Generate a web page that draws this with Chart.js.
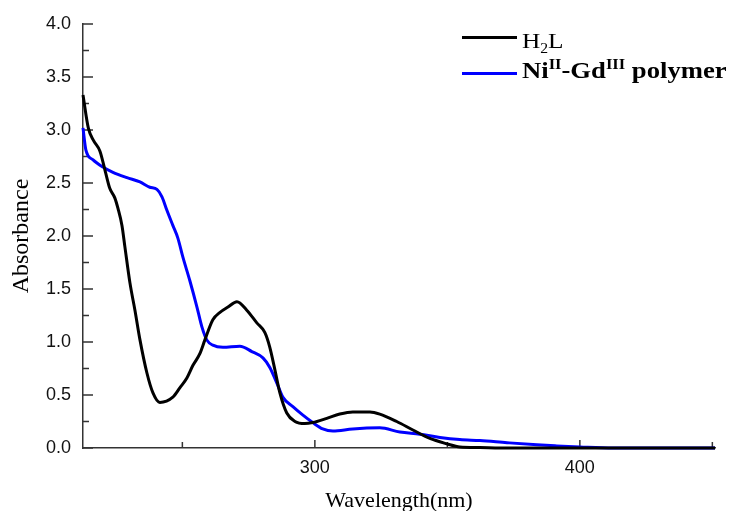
<!DOCTYPE html>
<html><head><meta charset="utf-8">
<script src="https://cdn.jsdelivr.net/npm/chart.js@4"></script>
<style>
html,body{margin:0;padding:0;background:#fff;}
#wrap{position:relative;width:733px;height:511px;overflow:hidden;}
canvas{display:block;}
.leg{position:absolute;font-family:"Liberation Serif","Times New Roman",serif;color:#000;white-space:nowrap;line-height:1;transform-origin:0 50%;}
.leg sub,.leg sup{line-height:0;font-size:0.62em;}
.sw{position:absolute;height:3px;}
</style></head><body>
<div id="wrap">
<canvas id="c" width="733" height="511"></canvas>
<div class="sw" style="left:462px;top:36px;width:55px;background:#000"></div>
<div class="leg" style="left:522px;top:30px;font-size:22px;transform:scaleX(1.15)">H<sub>2</sub>L</div>
<div class="sw" style="left:462px;top:72px;width:55px;background:#0000ff"></div>
<div class="leg" style="left:522px;top:58px;font-size:24px;font-weight:bold;transform:scaleX(1.11)">Ni<sup>II</sup>-Gd<sup>III</sup> polymer</div>
</div>
<script>
const seriesNames = ['H2L', 'NiII-GdIII polymer'];
const h2lWavelength = [212.5,214.5,216.5,218.9,221.0,222.6,224.5,225.7,227.2,228.3,230.2,232.1,234.0,236.6,238.9,241.5,246.4,249.1,251.7,254.0,256.6,258.5,261.5,264.2,267.2,270.6,274.3,278.1,281.1,283.0,284.9,286.8,289.4,292.5,296.2,299.2,304.5,309.4,314.3,320.8,324.5,330.9,337.0,343.4,349.8,354.7,362.3,369.8,407.5,451];
const h2lAbsorbance = [3.33,3.02,2.90,2.80,2.60,2.45,2.36,2.26,2.10,1.90,1.56,1.30,1.02,0.71,0.52,0.43,0.48,0.57,0.66,0.78,0.89,1.02,1.21,1.28,1.33,1.38,1.30,1.18,1.09,0.95,0.74,0.52,0.33,0.25,0.23,0.24,0.28,0.32,0.34,0.34,0.32,0.25,0.17,0.09,0.04,0.01,0.005,0,0,0];
const polyWavelength = [212.5,213.6,216.2,220.0,223.8,229.1,234.0,237.7,240.4,242.3,244.2,246.4,248.3,250.2,252.8,255.5,257.4,259.2,261.5,265.3,271.7,276.2,280.4,283.0,285.7,287.9,291.7,295.5,299.2,303.0,306.8,314.3,324.5,332.1,339.6,347.2,354.7,362.3,372.5,383.8,391.3,400.0,412.5,451];
const polyAbsorbance = [3.02,2.81,2.72,2.65,2.60,2.55,2.51,2.46,2.44,2.37,2.24,2.10,1.98,1.80,1.58,1.33,1.14,1.02,0.97,0.95,0.96,0.91,0.85,0.76,0.61,0.48,0.39,0.31,0.24,0.18,0.16,0.18,0.19,0.15,0.13,0.10,0.08,0.07,0.05,0.03,0.02,0.01,0,0];
const xTickLabels = [300, 400];
const xMinorTicks = [250, 350, 450];
const yTickLabels = ['0.0','0.5','1.0','1.5','2.0','2.5','3.0','3.5','4.0'];

const axisColor = '#333';
const tickPlugin = {
  id: 'innerTicks',
  beforeDatasetsDraw(chart) {
    const {ctx, scales: {x, y}, chartArea: a} = chart;
    ctx.save();
    ctx.strokeStyle = axisColor;
    ctx.lineWidth = 1.5;
    ctx.beginPath();
    yTickLabels.forEach((t, i) => {
      const py = y.getPixelForValue(parseFloat(t));
      ctx.moveTo(a.left, py); ctx.lineTo(a.left + 10, py);
      if (i < yTickLabels.length - 1) {
        const pm = y.getPixelForValue(parseFloat(t) + 0.25);
        ctx.moveTo(a.left, pm); ctx.lineTo(a.left + 6, pm);
      }
    });
    xTickLabels.forEach(v => {
      const px = x.getPixelForValue(v);
      ctx.moveTo(px, a.bottom); ctx.lineTo(px, a.bottom - 8);
    });
    xMinorTicks.forEach(v => {
      const px = x.getPixelForValue(v);
      ctx.moveTo(px, a.bottom); ctx.lineTo(px, a.bottom - 6);
    });
    ctx.stroke();
    ctx.restore();
  }
};

new Chart(document.getElementById('c'), {
  type: 'line',
  data: {
    datasets: [
      {label: seriesNames[0], data: h2lWavelength.map((w, i) => ({x: w, y: h2lAbsorbance[i]})),
       borderColor: '#000', borderWidth: 3, pointRadius: 0, cubicInterpolationMode: 'monotone', clip: 6},
      {label: seriesNames[1], data: polyWavelength.map((w, i) => ({x: w, y: polyAbsorbance[i]})),
       borderColor: '#0000ff', borderWidth: 3, pointRadius: 0, cubicInterpolationMode: 'monotone', clip: 6}
    ]
  },
  options: {
    responsive: false,
    animation: false,
    events: [],
    layout: {padding: {top: 24, right: 18, left: 0, bottom: 0}},
    plugins: {legend: {display: false}, tooltip: {enabled: false}},
    scales: {
      x: {
        type: 'linear', min: 212.5, max: 451,
        afterBuildTicks: s => { s.ticks = xTickLabels.map(v => ({value: v})); },
        afterFit: s => { s.height = 63; },
        grid: {display: true, drawOnChartArea: false, drawTicks: false},
        border: {display: true, color: axisColor, width: 1.5},
        ticks: {padding: 9, color: '#111', font: {family: '"Liberation Sans", Arial, sans-serif', size: 18}, maxRotation: 0},
        title: {display: true, text: 'Wavelength(nm)', color: '#000', padding: {top: 0, bottom: 0},
                font: {family: '"Liberation Serif", "Times New Roman", serif', size: 22, lineHeight: 0.85}}
      },
      y: {
        min: 0, max: 4,
        afterBuildTicks: s => { s.ticks = yTickLabels.map(t => ({value: parseFloat(t)})); },
        afterFit: s => { s.width = 83; },
        grid: {display: true, drawOnChartArea: false, drawTicks: false},
        border: {display: true, color: axisColor, width: 1.5},
        ticks: {padding: 12, color: '#111', font: {family: '"Liberation Sans", Arial, sans-serif', size: 18},
                callback: v => yTickLabels.find(t => parseFloat(t) === v) || ''},
        title: {display: true, text: 'Absorbance', color: '#000', padding: {top: 10, bottom: 0},
                font: {family: '"Liberation Serif", "Times New Roman", serif', size: 24, lineHeight: 1}}
      }
    }
  },
  plugins: [tickPlugin]
});
</script>
</body></html>
